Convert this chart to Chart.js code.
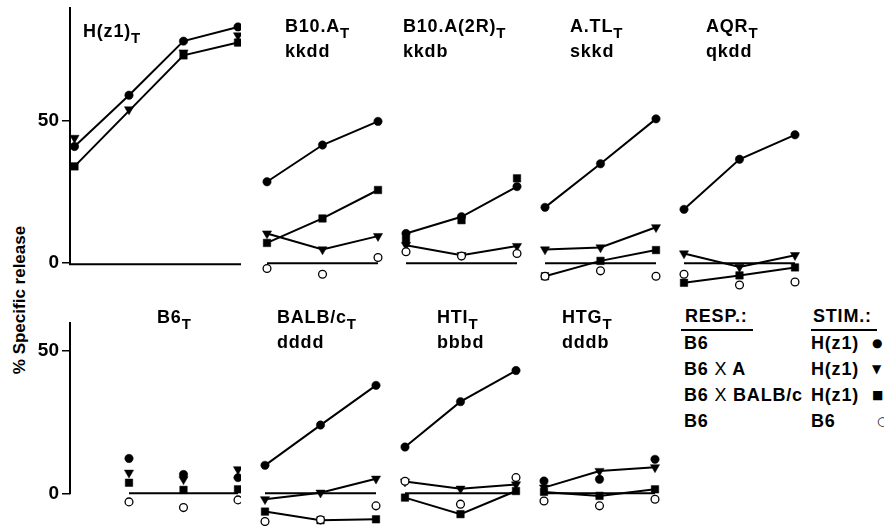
<!DOCTYPE html>
<html>
<head>
<meta charset="utf-8">
<script src="https://cdn.jsdelivr.net/npm/chart.js@4/dist/chart.umd.min.js"></script>
<style>
  body { margin: 0; background: #fff; }
  #fig { position: relative; width: 884px; height: 526px; overflow: hidden; background: #fff;
         font-family: "Liberation Sans", Arial, sans-serif; font-weight: bold; color: #000; }
  #fig canvas { position: absolute; }
  .ttl { position: absolute; font-size: 18px; line-height: 25px; white-space: nowrap; letter-spacing: 0.8px; }
  .ttl sub { font-size: 15px; vertical-align: -6px; line-height: 0; }
  .lg { position: absolute; font-size: 18px; line-height: 20px; white-space: nowrap; word-spacing: 0px; letter-spacing: 0.8px; }
  .lg .x { font-weight: normal; }
  .mk { position: absolute; font-family: "DejaVu Sans", sans-serif; font-size: 12px; line-height: 20px; }
  .uline { position: absolute; height: 2px; background: #000; }
  #ytitle { position: absolute; left: 20px; top: 300px; font-size: 17px; white-space: nowrap;
            transform: translate(-50%, -50%) rotate(-90deg); }
</style>
</head>
<body>
<div id="fig">
  <div id="ytitle">% Specific release</div>
</div>
<script>
// x steps of the effector dilutions (H(z1) has one more step than the others)
const steps4 = [1, 2, 3, 4];
const steps3 = [1, 2, 3];
const stepsB6 = [2, 3, 4];

// top row: H(z1), B10.A, B10.A(2R), A.TL, AQR targets
const topNames = ['H(z1)', 'B10.A', 'B10.A(2R)', 'A.TL', 'AQR'];
const topHaplo = ['', 'kkdd', 'kkdb', 'skkd', 'qkdd'];
const topCircle = [[41, 59, 78, 83], [28.6, 41.5, 49.8], [10.4, 16.3, 26.9], [19.6, 34.9, 50.7], [18.9, 36.5, 45.1]];
const topTri    = [[44, 54, 74, 80], [10.4, 4.8, 9.5], [6.3, 2.8, 6.0], [4.8, 5.5, 12.6], [3.4, -1.3, 2.8]];
const topSquare = [[34, null, 73, 77.5], [7.1, 15.7, 25.7], [8.3, 15.1, 29.8], [-4.6, 0.8, 4.6], [-6.9, -4.3, -1.5]];
const topOpen   = [[], [-1.9, -3.9, 2.0], [4.0, 2.5, 3.4], [-4.6, -2.7, -4.6], [-3.9, -7.7, -6.6]];

// bottom row: B6, BALB/c, HTI, HTG targets
const bottomNames = ['B6', 'BALB/c', 'HTI', 'HTG'];
const bottomHaplo = ['', 'dddd', 'bbbd', 'dddb'];
const bottomCircle = [[12.2, 6.6, 5.5], [9.8, 23.9, 37.8], [16.2, 32.1, 43.0], [4.3, 4.9, 11.9]];
const bottomTri    = [[7.2, 4.9, 8.4], [-2.1, 0.2, 5.1], [4.1, 1.6, 3.1], [2.0, 7.8, 9.1]];
const bottomSquare = [[3.7, 1.2, 1.4], [-6.4, -9.4, -9.1], [-1.5, -7.3, 0.8], [0.5, -0.9, 1.4]];
const bottomOpen   = [[-3.0, -5.0, -2.3], [-9.9, -9.3, -4.4], [4.2, -3.8, 5.5], [-2.7, -4.4, -2.1]];

const yTicks = [0, 50];
const respLabels = ['B6', 'B6 X A', 'B6 X BALB/c', 'B6'];
const stimLabels = ['H(z1)', 'H(z1)', 'H(z1)', 'B6'];
const stimMarks = ['●', '▼', '■', '○'];

// ---- layout / style ----
const ROWS = {
  top:    { zeroY: 263, yMin: -14,   yMax: 90, ppy: 2.844, titleTop: 14 },
  bottom: { zeroY: 494, yMin: -12.5, yMax: 60, ppy: 2.86,  titleTop: 305 }
};
const TOP_X1 = [74.5, 267, 406, 545, 684];
const BOTTOM_X1 = [74.5, 265, 405, 544];
const TOP_TITLE_X = [83, 285, 403, 570, 706];
const BOTTOM_TITLE_X = [157, 277, 437, 562];
// which of circle / triangle / square are joined by lines
const TOP_LINES = [[1, 0, 1], [1, 1, 1], [1, 1, 0], [1, 1, 1], [1, 1, 1]];
const BOTTOM_LINES = [[0, 0, 0], [1, 1, 1], [1, 1, 1], [0, 1, 1]];

const fig = document.getElementById('fig');
const FONT = '"Liberation Sans", Arial, sans-serif';

// y axis drawn from 0 up to the top only (and the H(z1) base line)
const axisLines = {
  id: 'axisLines',
  afterDatasetsDraw(chart, args, o) {
    if (!o.on) return;
    const { ctx, chartArea, scales: { y } } = chart;
    const y0 = y.getPixelForValue(0);
    const yTop = y.getPixelForValue(y.max);
    ctx.save();
    ctx.strokeStyle = '#000';
    ctx.lineWidth = 2;
    ctx.beginPath();
    ctx.moveTo(chartArea.left, yTop);
    ctx.lineTo(chartArea.left, y0 + 1);
    if (o.xLine) ctx.lineTo(chartArea.right, y0 + 1);
    ctx.stroke();
    ctx.restore();
  }
};

function pts(xs, ys) {
  return xs.map((x, i) => ({ x, y: ys[i] }));
}

function marker(style, r, fill, rot) {
  return { pointStyle: style, pointRadius: r, pointBackgroundColor: fill, pointBorderColor: '#000',
           pointBorderWidth: fill === '#fff' ? 1.3 : 0.5, pointRotation: rot };
}

function addDiv(cls, html, left, top) {
  const d = document.createElement('div');
  d.className = cls;
  d.innerHTML = html;
  d.style.left = left + 'px';
  d.style.top = top + 'px';
  fig.appendChild(d);
  return d;
}

function makePanel(rowKey, opts) {
  const row = ROWS[rowKey];
  const chartH = Math.round((row.yMax - row.yMin) * row.ppy);
  const top = row.zeroY - Math.round(row.yMax * row.ppy);
  const axis = opts.axis;
  let left, chartW, ppu, xMin, yW = 0;
  if (axis) {
    yW = 40; ppu = 54.5; chartW = 171;
    left = 70 - yW;
    xMin = 1 - (opts.x1 - 70) / ppu;
  } else {
    ppu = 55.5; chartW = 156;
    left = Math.round(opts.x1 - 22);
    xMin = 1 - (opts.x1 - left) / ppu;
  }
  const xMax = xMin + chartW / ppu;

  const c = document.createElement('canvas');
  c.width = yW + chartW;
  c.height = chartH;
  c.style.left = left + 'px';
  c.style.top = top + 'px';
  fig.appendChild(c);

  const xs = opts.xs;
  const lines = opts.lines;
  const base = { borderColor: '#000', borderWidth: 2, tension: 0, spanGaps: true, clip: false };
  const datasets = [];
  if (opts.open.length) {
    datasets.push(Object.assign({ data: pts(xs, opts.open), showLine: false }, base, marker('circle', 3.9, '#fff', 0)));
  }
  datasets.push(Object.assign({ data: pts(xs, opts.circle), showLine: !!lines[0] }, base, marker('circle', 4.2, '#000', 0)));
  datasets.push(Object.assign({ data: pts(xs, opts.tri), showLine: !!lines[1] }, base, marker('triangle', 5.3, '#000', 180)));
  datasets.push(Object.assign({ data: pts(xs, opts.square), showLine: !!lines[2] }, base, marker('rect', 5.3, '#000', 0)));
  if (!opts.xAxisLine) {
    // zero baseline under the points
    datasets.push(Object.assign({ data: xs.map(x => ({ x, y: 0 })), showLine: true, pointRadius: 0 }, base));
  }

  new Chart(c, {
    type: 'line',
    data: { datasets },
    plugins: [axisLines],
    options: {
      responsive: false,
      animation: false,
      events: [],
      layout: { autoPadding: false, padding: 0 },
      plugins: {
        legend: { display: false },
        tooltip: { enabled: false },
        axisLines: { on: axis, xLine: !!opts.xAxisLine }
      },
      scales: {
        x: { type: 'linear', min: xMin, max: xMax, display: false },
        y: {
          type: 'linear', min: row.yMin, max: row.yMax,
          display: axis,
          afterBuildTicks: s => { s.ticks = yTicks.map(v => ({ value: v })); },
          ticks: { color: '#000', padding: 3, font: { family: FONT, size: 19, weight: 'bold' } },
          grid: { display: true, drawOnChartArea: false, tickLength: 8, color: '#000', lineWidth: 1.5 },
          border: { display: false },
          afterFit: s => { s.width = yW; s.paddingTop = 0; s.paddingBottom = 0; }
        }
      }
    }
  });

  let html = opts.name + '<sub>T</sub>';
  if (opts.haplo) html += '<br>' + opts.haplo;
  addDiv('ttl', html, opts.titleX, opts.titleTop);
}

topNames.forEach((name, i) => {
  makePanel('top', {
    axis: i === 0, xAxisLine: i === 0,
    xs: i === 0 ? steps4 : steps3,
    x1: TOP_X1[i],
    circle: topCircle[i], tri: topTri[i], square: topSquare[i], open: topOpen[i],
    lines: TOP_LINES[i],
    name, haplo: topHaplo[i],
    titleX: TOP_TITLE_X[i], titleTop: i === 0 ? 19 : ROWS.top.titleTop
  });
});

bottomNames.forEach((name, i) => {
  makePanel('bottom', {
    axis: i === 0, xAxisLine: false,
    xs: i === 0 ? stepsB6 : steps3,
    x1: BOTTOM_X1[i],
    circle: bottomCircle[i], tri: bottomTri[i], square: bottomSquare[i], open: bottomOpen[i],
    lines: BOTTOM_LINES[i],
    name, haplo: bottomHaplo[i],
    titleX: BOTTOM_TITLE_X[i], titleTop: ROWS.bottom.titleTop
  });
});

// legend block
addDiv('lg', 'RESP.:', 685, 306);
addDiv('lg', 'STIM.:', 813, 306);
addDiv('uline', '', 681, 329).style.width = '72px';
addDiv('uline', '', 811, 329).style.width = '66px';
respLabels.forEach((t, i) => {
  addDiv('lg', t.replace(' X ', ' <span class="x">X</span> '), 684, 333 + i * 26);
  addDiv('lg', stimLabels[i], 811, 333 + i * 26);
  addDiv('mk', stimMarks[i], i === 3 ? 877 : 872, 333 + i * 26);
});
</script>
</body>
</html>
